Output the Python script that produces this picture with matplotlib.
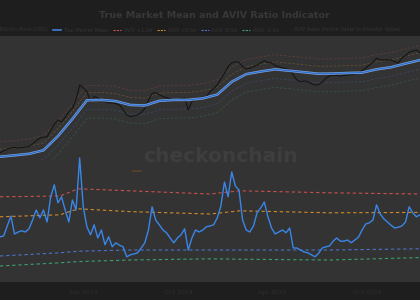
import matplotlib
matplotlib.use('Agg')
import matplotlib.pyplot as plt
import matplotlib.dates as mdates
import pandas as pd
import numpy as np

# weekly closes, price in k USD
price = [26.0, 26.8, 27.5, 28.0, 28.2, 28.0, 28.2, 28.4, 28.6, 29.8,
         31.2, 32.6, 32.9, 33.2, 36.5, 40.0, 42.8, 41.5, 44.5, 48.5,
         51.4, 58.5, 72.9, 69.7, 65.9, 56.5, 61.1, 59.9, 58.1, 56.5,
         55.5, 55.5, 55.0, 53.8, 50.0, 46.2, 45.1, 45.5, 46.2, 48.0,
         51.0, 58.1, 64.0, 65.0, 63.0, 61.1, 60.0, 59.0, 58.5, 58.1,
         59.0, 59.9, 49.9, 56.6, 59.0, 60.0, 60.5, 61.1, 65.9, 69.0,
         72.9, 80.0, 87.0, 96.3, 102.0, 103.9, 103.0, 96.3, 93.0, 94.0,
         96.3, 99.0, 101.9, 105.5, 103.0, 101.9, 98.0, 96.3, 94.5, 93.5,
         92.0, 84.9, 78.7, 76.7, 77.5, 76.7, 74.5, 72.9, 73.5, 76.0,
         81.1, 83.6, 84.9, 84.2, 83.6, 84.2, 84.9, 85.0, 86.2, 87.5,
         91.0, 94.0, 98.9, 103.0, 109.5, 107.0, 106.7, 106.7, 106.7, 104.0,
         101.9, 110.0, 114.0, 120.0, 122.0, 124.2, 119.1]

aviv = [1.33, 1.35, 1.60, 1.85, 1.40, 1.45, 1.48, 1.45, 1.53, 1.75,
        2.00, 1.80, 2.00, 1.70, 2.33, 2.63, 2.18, 2.33, 2.00, 1.70,
        2.25, 2.00, 3.30, 2.08, 1.58, 1.38, 1.63, 1.30, 1.50, 1.13,
        1.33, 1.08, 1.18, 1.12, 1.08, 0.83, 0.88, 0.90, 0.93, 1.05,
        1.18, 1.50, 2.08, 1.75, 1.63, 1.50, 1.43, 1.30, 1.18, 1.30,
        1.38, 1.53, 1.00, 1.30, 1.50, 1.45, 1.50, 1.58, 1.60, 1.63,
        1.80, 2.10, 2.70, 2.33, 2.95, 2.60, 2.50, 1.75, 1.50, 1.45,
        1.60, 1.93, 2.05, 2.20, 1.83, 1.55, 1.40, 1.45, 1.50, 1.43,
        1.55, 1.05, 1.05, 1.00, 0.95, 0.93, 0.88, 0.83, 0.92, 1.05,
        1.08, 1.10, 1.22, 1.30, 1.22, 1.22, 1.25, 1.18, 1.25, 1.32,
        1.50, 1.65, 1.68, 1.75, 2.13, 1.90, 1.78, 1.70, 1.62, 1.55,
        1.57, 1.60, 1.70, 2.08, 1.93, 1.83, 1.88]

# true market mean, every 4 weeks
tmm = [24.5, 25.0, 25.6, 27.0, 33.5, 43.5, 57.8, 58.1, 57.0, 53.8,
       53.4, 57.3, 58.1, 58.1, 59.5, 63.0, 76.5, 86.0, 89.5, 92.5,
       90.5, 88.5, 86.5, 86.8, 87.5, 88.0, 92.5, 95.5, 101.0, 106.5]

# AVIV bands
band_dates = ['2023-10-22', '2024-02-15', '2024-03-21', '2024-06-29',
              '2024-12-01', '2025-01-28', '2025-07-21', '2026-01-11']
band_p10 = [2.33, 2.35, 2.53, 2.48, 2.40, 2.48, 2.43, 2.40]
band_p05 = [1.83, 1.88, 2.03, 1.96, 1.90, 1.98, 1.93, 1.94]
band_m05 = [0.85, 0.93, 0.97, 1.00, 1.00, 1.00, 1.00, 1.03]
band_m10 = [0.60, 0.68, 0.71, 0.75, 0.78, 0.77, 0.75, 0.81]
price_band_mult = [1.25, 1.12, 0.87, 0.76]

labels = ['Bitcoin Price (USD)', 'True Market Mean', 'AVIV +1.0σ', 'AVIV +0.5σ',
          'AVIV -0.5σ', 'AVIV -1.0σ', 'AVIV Ratio (Active Value to Investor Value)']

dates = pd.date_range('2023-10-22', periods=len(aviv), freq='7D')
tmm_dates = dates[::4]
bdates = pd.to_datetime(band_dates)

c_red = '#c8504e'
c_orange = '#d08a2a'
c_blue = '#4a72c8'
c_green = '#3c9e6e'
band_cols = [c_red, c_orange, c_blue, c_green]

fig = plt.figure(figsize=(4.2, 3), dpi=100, facecolor='#1e1e1e')

bg = fig.add_axes([0, 0.06, 1, 0.82])
bg.set_facecolor('#333333')
bg.set_xticks([])
bg.set_yticks([])
for s in bg.spines.values():
    s.set_visible(False)

ax1 = fig.add_axes([0, 1 - 160 / 300, 1, 124 / 300])
ax2 = fig.add_axes([0, 0.06, 1, 142 / 300])
for ax in (ax1, ax2):
    ax.patch.set_alpha(0)
    for s in ax.spines.values():
        s.set_visible(False)
    ax.set_xlim(dates[0], dates[-1])
    ax.set_yticks([])
    ax.tick_params(length=0)

# price panel
tmm_arr = np.array(tmm)
for m, c in zip(price_band_mult, band_cols):
    ax1.plot(tmm_dates, tmm_arr * m, color=c, lw=0.6, alpha=0.3, ls=(0, (3, 2)))
ax1.plot(dates, price, color='#111111', lw=0.7)
ax1.plot(tmm_dates, tmm, color='#7fa9e0', lw=1.8)
ax1.plot(tmm_dates, tmm, color='#2f6fd0', lw=0.9)
ax1.set_yscale('log')
ax1.set_ylim(23.3, 153.6)
ax1.set_yticks([])
ax1.yaxis.set_minor_locator(matplotlib.ticker.NullLocator())
ax1.set_xticks([])

# aviv panel
for b, c in zip([band_p10, band_p05, band_m05, band_m10], band_cols):
    ax2.plot(bdates, b, color=c, lw=0.8, ls=(0, (3, 2.5)))
ax2.plot(dates, aviv, color='#3a86e8', lw=1.0)
ax2.set_ylim(0.2, 3.75)
ax2.xaxis.set_major_locator(mdates.MonthLocator(bymonth=[4, 10]))
ax2.xaxis.set_major_formatter(mdates.DateFormatter('%b %Y'))
ax2.tick_params(axis='x', colors='#2e2e2e', labelsize=4.5, pad=6)

# watermark
fig.text(0.524, 1 - 157 / 300, 'checkonchain', color='#3e3e3e', fontsize=14.5,
         weight='bold', ha='center', va='center')
fig.text(0.327, 1 - 163 / 300, '_', color='#5a4028', fontsize=14,
         weight='bold', ha='center', va='center')

fig.text(0.51, 1 - 15 / 300, 'True Market Mean and AVIV Ratio Indicator',
         color='#383838', fontsize=6.8, weight='bold', ha='center', va='center')

handles = [
    plt.Line2D([], [], color='#1e1e1e', lw=1),
    plt.Line2D([], [], color='#3f7fd6', lw=1.2),
    plt.Line2D([], [], color=c_red, lw=0.8, ls=(0, (2, 1))),
    plt.Line2D([], [], color=c_orange, lw=0.8, ls=(0, (2, 1))),
    plt.Line2D([], [], color=c_blue, lw=0.8, ls=(0, (2, 1))),
    plt.Line2D([], [], color=c_green, lw=0.8, ls=(0, (2, 1))),
    plt.Line2D([], [], color='#1e1e1e', lw=1),
]
leg = fig.legend(handles, labels, loc='center left', bbox_to_anchor=(-0.035, 1 - 30 / 300),
                 ncol=7, frameon=False, fontsize=3.6, handlelength=1.6,
                 columnspacing=1.0, handletextpad=0.5, labelcolor='#353535')

fig.savefig('out.png', dpi=100, facecolor=fig.get_facecolor())
